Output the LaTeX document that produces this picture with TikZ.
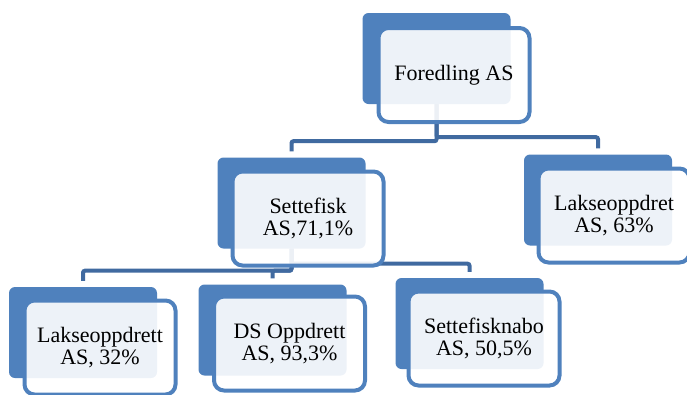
\documentclass[tikz,border=0pt]{standalone}
\usepackage{fontspec}
\setmainfont{Liberation Serif}
\definecolor{accent}{RGB}{79,129,189}
\definecolor{connc}{RGB}{64,106,160}
\pgfdeclarelayer{background}
\pgfsetlayers{background,main}
\begin{document}
\begin{tikzpicture}[x=1pt,y=-1pt,
 backbox/.style={draw=none, fill=accent, rounded corners=6pt, minimum width=148pt, minimum height=91pt, inner sep=0pt},
 frontbox/.style={draw=accent, line width=4pt, fill=white, fill opacity=0.9, text opacity=1, draw opacity=1, rounded corners=10pt, minimum width=151pt, minimum height=94pt, inner sep=0pt, align=center, font=\fontsize{22}{22}\selectfont},
 conn/.style={draw=connc, line width=4pt, shorten >=6pt, rounded corners=2pt}]
\useasboundingbox (0,0) rectangle (687,394);
% back rectangles
\node[backbox] (fB)  at (436.5,58.5) {};
\node[backbox] (sB)  at (291.5,203) {};
\node[backbox] (lrB) at (598,200) {};
\node[backbox] (llB) at (83,332.5) {};
\node[backbox] (dsB) at (272.5,330) {};
\node[backbox] (snB) at (469.5,323.5) {};
% connectors
\begin{pgfonlayer}{background}
\draw[conn] (fB.south) -- ++(0,37) -| (sB.north);
\draw[conn] (fB.south) -- ++(0,33) -| (lrB.north);
\draw[conn] (sB.south) -- ++(0,22) -| (llB.north);
\draw[conn] (sB.south) -- ++(0,22) -| (dsB.north);
\draw[conn] (sB.south) -- ++(0,15) -| (snB.north);
\end{pgfonlayer}
% front boxes
\node[frontbox] (fF)  at (454,75) {Foredling AS};
\node[frontbox] (sF)  at (308,218.5) {Settefisk\\AS,71,1\%};
\node[frontbox] (lrF) at (614,215.5) {Lakseoppdret\\AS, 63\%};
\node[frontbox] (llF) at (100,347.5) {Lakseoppdrett\\AS, 32\%};
\node[frontbox] (dsF) at (289.5,343.5) {DS Oppdrett\\AS, 93,3\%};
\node[frontbox] (snF) at (484,338.5) {Settefisknabo\\AS, 50,5\%};
\end{tikzpicture}
\end{document}
